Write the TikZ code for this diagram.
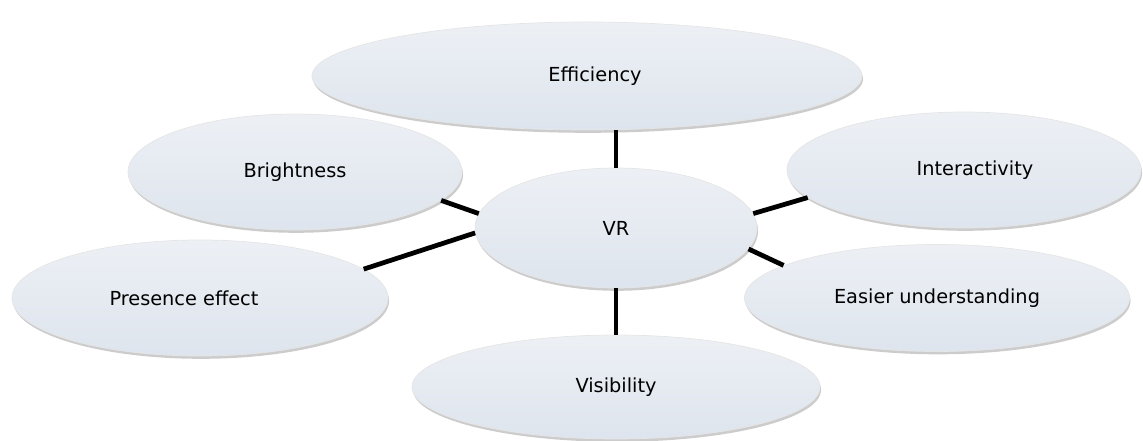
\documentclass[tikz,border=0pt]{standalone}
\usepackage{fontspec}
\setmainfont{DejaVu Sans}
\usepackage{tikz}
\usetikzlibrary{shapes.geometric, shadows}
\definecolor{bubblefill}{RGB}{214,222,233}
\tikzset{
  font={\fontsize{11pt}{13}\selectfont},
  bubble/.style={ellipse, inner sep=0pt, draw=white!80!gray, line width=0.4pt,
    top color=bubblefill!45!white, middle color=bubblefill, bottom color=bubblefill!80!white,
    drop shadow={shadow xshift=0.6pt, shadow yshift=-1.6pt, opacity=0.4, fill=gray}},
  link/.style={line width=2.7pt, black}}

\begin{document}
\begin{tikzpicture}
\useasboundingbox (0,0) rectangle (22.86,8.8);
\node[bubble, minimum width=11cm,   minimum height=2.16cm] (eff)    at (11.74,7.28) {\hspace*{0.32cm}Efficiency};
\node[bubble, minimum width=6.68cm, minimum height=2.32cm] (bright) at (5.9,5.36)   {Brightness};
\node[bubble, minimum width=7.08cm, minimum height=2.32cm] (inter)  at (19.28,5.4)  {\hspace*{0.44cm}Interactivity};
\node[bubble, minimum width=5.64cm, minimum height=2.4cm]  (vr)     at (12.32,4.24) {VR};
\node[bubble, minimum width=7.52cm, minimum height=2.32cm] (pres)   at (4.0,2.84)   {Presence effect\hspace*{0.64cm}};
\node[bubble, minimum width=7.7cm,  minimum height=2.14cm] (easy)   at (18.74,2.84) {Easier understanding};
\node[bubble, minimum width=8.16cm, minimum height=2.08cm] (vis)    at (12.32,1.06) {Visibility};
\draw[link] (vr.north) -- (vr.north |- eff.south);
\draw[link] (vr.south) -- (vr.south |- vis.north);
\draw[link] (vr.174) -- (bright.-11);
\draw[link] (vr.182) -- (pres.10);
\draw[link] (vr.6)   -- (inter.190);
\draw[link] (vr.-9)  -- (easy.168);
\end{tikzpicture}
\end{document}
